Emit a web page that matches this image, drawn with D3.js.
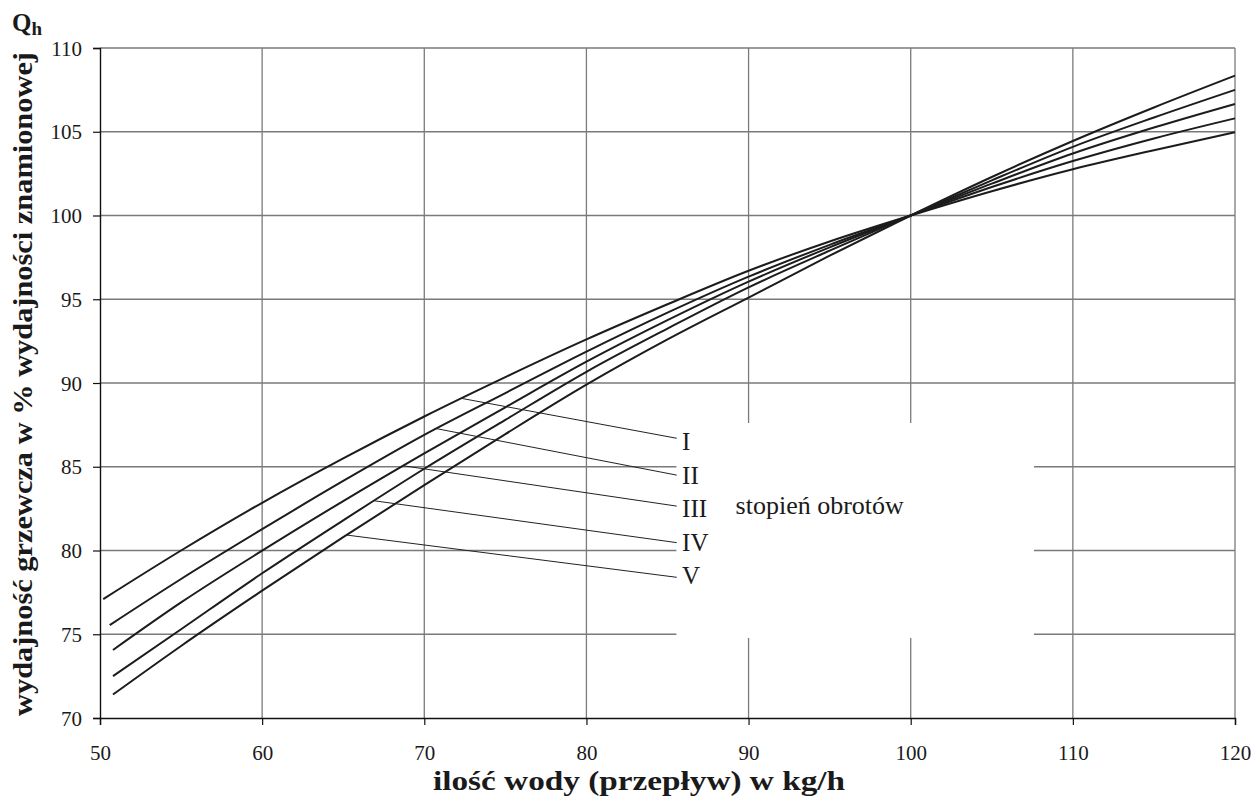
<!DOCTYPE html>
<html>
<head>
<meta charset="utf-8">
<script src="https://cdn.jsdelivr.net/npm/d3@7"></script>
<style>
  html, body { margin: 0; padding: 0; background: #fff; }
  svg { display: block; }
  text { font-family: "Liberation Serif", "Times New Roman", serif; fill: #1a1a1a; }
</style>
</head>
<body>
<svg id="chart" width="1254" height="796"></svg>
<script>
// Water flow (kg/h) at which the curves are sampled
const flow = [55, 60, 65, 70, 75, 80, 85, 90, 95, 100, 105, 110, 115, 120];

// First point of each curve (the curves begin at slightly different flows)
const startFlow  = [50.2, 50.6, 50.8, 50.8, 50.8];
const startValue = [77.1, 75.55, 74.06, 72.5, 71.4];

// Heating output in % of nominal, one array per fan speed step
const speedI   = [80.0, 82.85, 85.5, 88.0, 90.35, 92.6, 94.7, 96.7, 98.45, 100, 101.45, 102.76, 103.9, 104.97];
const speedII  = [78.3, 81.27, 84.15, 86.9, 89.4, 91.87, 94.2, 96.35, 98.25, 100, 101.7, 103.25, 104.6, 105.8];
const speedIII = [76.9, 79.99, 82.95, 85.8, 88.55, 91.27, 93.75, 96.05, 98.1, 100, 101.9, 103.7, 105.25, 106.66];
const speedIV  = [75.3, 78.64, 81.8, 84.88, 87.8, 90.67, 93.25, 95.71, 97.9, 100, 102.1, 104.1, 105.85, 107.5];
const speedV   = [74.3, 77.6, 80.8, 83.9, 86.95, 89.9, 92.6, 95.1, 97.6, 100, 102.3, 104.45, 106.45, 108.35];

const speedNames = ["I", "II", "III", "IV", "V"];

// Leader lines: where each touches its curve, where it ends, and the label baseline
const leaderFlow   = [72.3, 70.75, 68.7, 66.9, 65.2];
const leaderEndFlow = 85.57;
const leaderEndValue = [86.7, 84.5, 82.65, 80.47, 78.4];
const labelFlow = 85.9;
const labelValue = [86, 84, 82, 80, 78];

// Axis ticks
const xTicks = [50, 60, 70, 80, 90, 100, 110, 120];
const yTicks = [70, 75, 80, 85, 90, 95, 100, 105, 110];

// Blank area holding the legend text
const legendBoxFlow  = [85.55, 107.6];
const legendBoxValue = [74.78, 87.61];

const svg = d3.select("#chart");
const x = d3.scaleLinear().domain([50, 120]).range([100, 1235]);
const y = d3.scaleLinear().domain([70, 110]).range([718, 48]);

const gridColor = "#7a7a7a";

// Grid
const grid = svg.append("g");
grid.selectAll("line.v").data(xTicks.slice(1)).join("line")
  .attr("x1", d => x(d)).attr("x2", d => x(d))
  .attr("y1", y(70)).attr("y2", y(110))
  .attr("stroke", gridColor).attr("stroke-width", 1.3);
grid.selectAll("line.h").data(yTicks.slice(1)).join("line")
  .attr("x1", x(50)).attr("x2", x(120))
  .attr("y1", d => y(d)).attr("y2", d => y(d))
  .attr("stroke", gridColor).attr("stroke-width", 1.3);

// White area behind the legend
svg.append("rect")
  .attr("x", x(legendBoxFlow[0])).attr("y", y(legendBoxValue[1]))
  .attr("width", x(legendBoxFlow[1]) - x(legendBoxFlow[0]))
  .attr("height", y(legendBoxValue[0]) - y(legendBoxValue[1]))
  .attr("fill", "#fff");

// Axes
const xAxis = d3.axisBottom(x).tickValues(xTicks).tickSize(7).tickPadding(20).tickFormat(d3.format("d"));
const yAxis = d3.axisLeft(y).tickValues(yTicks).tickSize(7).tickPadding(11).tickFormat(d3.format("d"));

const gx = svg.append("g").attr("transform", `translate(0,${y(70)})`).call(xAxis);
const gy = svg.append("g").attr("transform", `translate(${x(50)},0)`).call(yAxis);
[gx, gy].forEach(g => {
  g.select(".domain").attr("stroke", "#111").attr("stroke-width", 1.4);
  g.selectAll(".tick line").attr("stroke", "#111").attr("stroke-width", 1.2);
  g.selectAll(".tick text").attr("font-size", 21).attr("fill", "#1a1a1a");
});
gy.selectAll(".tick text").attr("dy", "0.34em");

// Curves
const series = [speedI, speedII, speedIII, speedIV, speedV].map((vals, i) =>
  [[startFlow[i], startValue[i]]].concat(flow.map((f, j) => [f, vals[j]])));

const line = d3.line().x(d => x(d[0])).y(d => y(d[1])).curve(d3.curveMonotoneX);
svg.append("g").selectAll("path").data(series).join("path")
  .attr("d", line)
  .attr("fill", "none")
  .attr("stroke", "#1c1c1c")
  .attr("stroke-width", 2)
  .attr("stroke-linejoin", "round");

// Value of a curve at a given flow, used to attach the leader lines
function valueAt(pts, f) {
  for (let k = 1; k < pts.length; k++) {
    if (f <= pts[k][0]) {
      const [f0, v0] = pts[k - 1], [f1, v1] = pts[k];
      return v0 + (v1 - v0) * (f - f0) / (f1 - f0);
    }
  }
  return pts[pts.length - 1][1];
}

// Leader lines and speed labels
const legend = svg.append("g");
speedNames.forEach((name, i) => {
  legend.append("line")
    .attr("x1", x(leaderFlow[i])).attr("y1", y(valueAt(series[i], leaderFlow[i])))
    .attr("x2", x(leaderEndFlow)).attr("y2", y(leaderEndValue[i]))
    .attr("stroke", "#222").attr("stroke-width", 1);
  legend.append("text")
    .attr("x", x(labelFlow)).attr("y", y(labelValue[i]))
    .attr("font-size", 25)
    .text(name);
});
legend.append("text")
  .attr("x", x(89.2)).attr("y", y(82.2))
  .attr("font-size", 26)
  .text("stopień obrotów");

// Axis titles
svg.append("text")
  .attr("x", 639).attr("y", 790)
  .attr("text-anchor", "middle")
  .attr("font-size", 28).attr("font-weight", "bold")
  .attr("textLength", 412).attr("lengthAdjust", "spacingAndGlyphs")
  .text("ilość wody (przepływ) w kg/h");

svg.append("text")
  .attr("transform", "translate(32,384) rotate(-90)")
  .attr("text-anchor", "middle")
  .attr("font-size", 27).attr("font-weight", "bold")
  .attr("textLength", 664).attr("lengthAdjust", "spacingAndGlyphs")
  .text("wydajność grzewcza w % wydajności znamionowej");

const qh = svg.append("text").attr("x", 12).attr("y", 31)
  .attr("font-size", 25).attr("font-weight", "bold");
qh.append("tspan").text("Q");
qh.append("tspan").attr("font-size", 19).attr("dy", 4).text("h");
</script>
</body>
</html>
